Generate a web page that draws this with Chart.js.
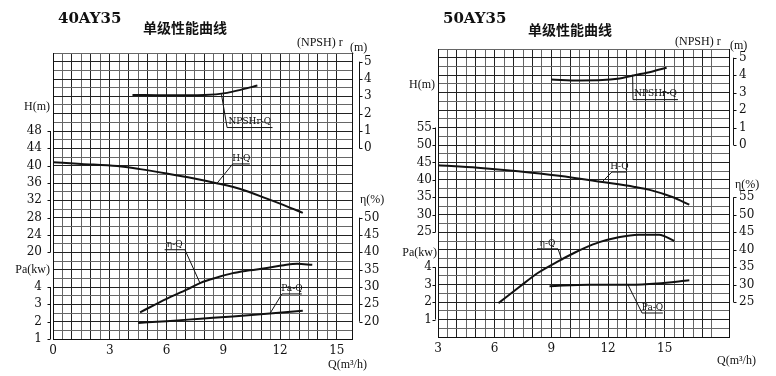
<!DOCTYPE html>
<html>
<head>
<meta charset="utf-8">
<script src="https://cdn.jsdelivr.net/npm/chart.js@4"></script>
<style>
html, body { margin: 0; padding: 0; background: #fff; }
#wrap { position: relative; width: 776px; height: 376px; overflow: hidden; }
canvas { position: absolute; top: 0; }
#c40 { left: 0; }
#c50 { left: 388px; }
</style>
</head>
<body>
<div id="wrap">
	<canvas id="c40" width="388" height="376"></canvas>
	<canvas id="c50" width="388" height="376"></canvas>
</div>
<script>
// ---- 40AY35 ----
var q40_ticks    = [0, 3, 6, 9, 12, 15];
var h40_ticks    = [20, 24, 28, 32, 36, 40, 44, 48];
var pa40_ticks   = [1, 2, 3, 4];
var npsh40_ticks = [0, 1, 2, 3, 4, 5];
var eta40_ticks  = [20, 25, 30, 35, 40, 45, 50];

var q40_npsh = [4.2, 6, 8, 9.2, 10, 10.8];
var npsh40   = [3.08, 3.06, 3.08, 3.2, 3.4, 3.62];
var q40_h    = [0, 1.5, 3.4, 4.6, 6, 7.4, 8.7, 9.9, 11.3, 12.2, 13.2];
var h40      = [40.8, 40.4, 39.9, 39.2, 38.2, 37.1, 35.9, 34.6, 32.4, 30.9, 29.1];
var q40_eta  = [4.6, 6, 7.1, 7.8, 8.7, 9.5, 10.4, 11.3, 12.2, 12.9, 13.7];
var eta40    = [22.7, 26.6, 29.3, 31.2, 32.8, 34.0, 34.8, 35.5, 36.3, 36.7, 36.4];
var q40_pa   = [4.5, 6, 7.8, 9.5, 11.3, 13.2];
var pa40     = [1.93, 2.03, 2.17, 2.3, 2.45, 2.63];

// ---- 50AY35 ----
var q50_ticks    = [3, 6, 9, 12, 15, 18];
var h50_ticks    = [25, 30, 35, 40, 45, 50, 55];
var pa50_ticks   = [1, 2, 3, 4];
var npsh50_ticks = [0, 1, 2, 3, 4, 5];
var eta50_ticks  = [25, 30, 35, 40, 45, 50, 55];

var q50_npsh = [9.0, 10.5, 11.7, 12.5, 13.4, 14.3, 15.1];
var npsh50   = [3.75, 3.7, 3.72, 3.8, 4.0, 4.2, 4.43];
var q50_h    = [3, 5.1, 7.25, 9.4, 11.7, 13.4, 14.3, 15.4, 16.3];
var h50      = [44.2, 43.5, 42.5, 41.2, 39.4, 38.0, 37.0, 35.1, 32.9];
var q50_eta  = [6.2, 7.25, 8.3, 9.4, 10.25, 10.8, 11.5, 12.5, 13.6, 14.7, 15.5];
var eta50    = [24.7, 29.1, 33.4, 36.8, 39.2, 40.6, 42.1, 43.5, 44.3, 44.3, 42.5];
var q50_pa   = [8.9, 11.0, 13.2, 14.6, 16.3];
var pa50     = [2.91, 3.0, 3.0, 3.07, 3.25];

var FONT = 'DejaVu Serif';
var ROWS = 33;   // grid rows, every label sits on an even row

function pts(qs, vs) {
	return qs.map(function(q, i) { return { x: q, y: vs[i] }; });
}

// hidden value axis that lines up with the row grid
function value_axis(ticks, row) {
	var per_row = (ticks[1] - ticks[0]) / 2;
	var lo = ticks[0] - row * per_row;
	return { display: false, min: lo, max: lo + ROWS * per_row };
}

function row_label(groups) {
	return function(v) {
		for (var i = 0; i < groups.length; i++) {
			var g = groups[i];
			var k = (v - g.row) / 2;
			if (Number.isInteger(k) && k >= 0 && k < g.ticks.length) return g.ticks[k];
		}
		return '';
	};
}

var decor = {
	id: 'decor',
	afterDraw: function(chart, args, o) {
		var ctx = chart.ctx, a = chart.chartArea, x = chart.scales.x, y = chart.scales.y;
		ctx.save();
		ctx.strokeStyle = '#111';
		ctx.fillStyle = '#111';
		ctx.lineWidth = 1;
		// brackets next to the tick columns
		o.brackets.forEach(function(b) {
			var dir = b.side === 'left' ? -1 : 1;
			var bx = (b.side === 'left' ? a.left : a.right) + dir * b.gap + 0.5;
			ctx.beginPath();
			ctx.moveTo(bx, y.getPixelForValue(b.from));
			ctx.lineTo(bx, y.getPixelForValue(b.to));
			for (var r = b.from; r <= b.to; r += 2) {
				var py = Math.round(y.getPixelForValue(r)) + 0.5;
				ctx.moveTo(bx, py);
				ctx.lineTo(bx + dir * 3, py);
			}
			ctx.stroke();
		});
		// curve name leaders
		ctx.font = '9px ' + FONT;
		ctx.textAlign = 'center';
		ctx.textBaseline = 'bottom';
		o.leaders.forEach(function(l) {
			var ax = x.getPixelForValue(l.q), ay = chart.scales[l.axis].getPixelForValue(l.v);
			var ex = x.getPixelForValue(l.elbowQ), ey = y.getPixelForValue(l.elbowRow);
			var tx = x.getPixelForValue(l.tailQ);
			ctx.beginPath();
			ctx.moveTo(ax, ay);
			ctx.lineTo(ex, ey);
			ctx.lineTo(tx, ey);
			ctx.stroke();
			ctx.fillText(l.text, (ex + tx) / 2, ey - 1);
		});
		// titles and axis names
		ctx.textBaseline = 'middle';
		o.texts.forEach(function(t) {
			ctx.font = t.font;
			ctx.textAlign = t.align || 'left';
			ctx.fillText(t.text, t.x, t.y);
		});
		ctx.restore();
	}
};

function make_pump_chart(canvas_id, s) {
	var grid_col = function(c) { return c.tick && c.tick.value % 2 === 0 ? '#222' : '#666'; };
	var grid_colx = function(c) { return c.tick && Number.isInteger(c.tick.value) ? '#222' : '#666'; };
	var curve = function(qs, vs, axis) {
		return { data: pts(qs, vs), yAxisID: axis, borderColor: '#111', borderWidth: 2,
		         pointRadius: 0, fill: false, cubicInterpolationMode: 'monotone' };
	};
	var tick_font = { family: FONT, size: 12 };
	new Chart(document.getElementById(canvas_id), {
		type: 'line',
		data: {
			datasets: [
				curve(s.q_npsh, s.npsh, 'yN'),
				curve(s.q_h, s.h, 'yH'),
				curve(s.q_eta, s.eta, 'yE'),
				curve(s.q_pa, s.pa, 'yP')
			]
		},
		plugins: [decor],
		options: {
			responsive: false,
			animation: false,
			layout: { padding: { top: s.top, left: 0, right: 0, bottom: 0 } },
			plugins: { legend: { display: false }, tooltip: { enabled: false }, decor: s.decor },
			scales: {
				x: { type: 'linear', min: s.qmin, max: s.qmax,
				     afterFit: function(sc) { sc.height = s.bottom; },
				     ticks: { stepSize: 0.5, autoSkip: false, maxRotation: 0, padding: 5, color: '#111', font: tick_font,
				              callback: function(v) { return s.q_ticks.indexOf(v) >= 0 ? v : ''; } },
				     grid: { color: grid_colx, drawTicks: false },
				     border: { color: '#111' } },
				y: { position: 'left', min: 0, max: ROWS,
				     afterFit: function(sc) { sc.width = s.left; },
				     ticks: { stepSize: 1, autoSkip: false, padding: s.lpad, color: '#111', font: tick_font,
				              callback: row_label(s.left_groups) },
				     grid: { color: grid_col, drawTicks: false },
				     border: { color: '#111' } },
				yR: { position: 'right', min: 0, max: ROWS,
				      afterFit: function(sc) { sc.width = s.right; },
				      ticks: { stepSize: 1, autoSkip: false, padding: s.rpad, color: '#111', font: tick_font,
				               callback: row_label(s.right_groups) },
				      grid: { display: false, drawTicks: false },
				      border: { color: '#111' } },
				yH: value_axis(s.h_ticks, s.h_row),
				yP: value_axis(s.pa_ticks, s.pa_row),
				yN: value_axis(s.npsh_ticks, s.npsh_row),
				yE: value_axis(s.eta_ticks, s.eta_row)
			}
		}
	});
}

var title_font = 'bold 15px ' + FONT;
var cjk_font = 'bold 14px "Noto Sans CJK SC"';
var name_font = '12px "Liberation Serif"';

make_pump_chart('c40', {
	qmin: 0, qmax: 15.8, q_ticks: q40_ticks,
	top: 53, bottom: 37, left: 53, right: 36, lpad: 11, rpad: 12,
	q_npsh: q40_npsh, npsh: npsh40, q_h: q40_h, h: h40, q_eta: q40_eta, eta: eta40, q_pa: q40_pa, pa: pa40,
	h_ticks: h40_ticks, h_row: 10, pa_ticks: pa40_ticks, pa_row: 0,
	npsh_ticks: npsh40_ticks, npsh_row: 22, eta_ticks: eta40_ticks, eta_row: 2,
	left_groups: [ { ticks: h40_ticks, row: 10 }, { ticks: pa40_ticks, row: 0 } ],
	right_groups: [ { ticks: npsh40_ticks, row: 22 }, { ticks: eta40_ticks, row: 2 } ],
	decor: {
		brackets: [ { side: 'left', gap: 3, from: 10, to: 24 }, { side: 'left', gap: 3, from: 0, to: 6 },
		            { side: 'right', gap: 7, from: 22, to: 32 }, { side: 'right', gap: 7, from: 2, to: 14 } ],
		leaders: [
			{ text: 'NPSHr-Q', axis: 'yN', q: 8.9, v: 3.12, elbowQ: 9.2, elbowRow: 24.4, tailQ: 11.6 },
			{ text: 'H-Q', axis: 'yH', q: 8.66, v: 35.9, elbowQ: 9.5, elbowRow: 20.2, tailQ: 10.4 },
			{ text: 'η-Q', axis: 'yE', q: 7.77, v: 31.1, elbowQ: 6.97, elbowRow: 10.3, tailQ: 5.9 },
			{ text: 'Pa-Q', axis: 'yP', q: 11.46, v: 2.46, elbowQ: 12.1, elbowRow: 5.2, tailQ: 13.15 }
		],
		texts: [
			{ text: '40AY35', x: 58, y: 19, font: title_font },
			{ text: '单级性能曲线', x: 143, y: 28, font: cjk_font },
			{ text: '(NPSH) r', x: 297, y: 43, font: name_font },
			{ text: '(m)', x: 350, y: 48, font: name_font },
			{ text: 'H(m)', x: 50, y: 107, font: name_font, align: 'right' },
			{ text: 'Pa(kw)', x: 50, y: 270, font: name_font, align: 'right' },
			{ text: 'η(%)', x: 360, y: 200, font: name_font },
			{ text: 'Q(m³/h)', x: 328, y: 365, font: name_font }
		]
	}
});

make_pump_chart('c50', {
	qmin: 3, qmax: 18.4, q_ticks: q50_ticks,
	top: 49, bottom: 39, left: 50, right: 47, lpad: 6, rpad: 10,
	q_npsh: q50_npsh, npsh: npsh50, q_h: q50_h, h: h50, q_eta: q50_eta, eta: eta50, q_pa: q50_pa, pa: pa50,
	h_ticks: h50_ticks, h_row: 12, pa_ticks: pa50_ticks, pa_row: 2,
	npsh_ticks: npsh50_ticks, npsh_row: 22, eta_ticks: eta50_ticks, eta_row: 4,
	left_groups: [ { ticks: h50_ticks, row: 12 }, { ticks: pa50_ticks, row: 2 } ],
	right_groups: [ { ticks: npsh50_ticks, row: 22 }, { ticks: eta50_ticks, row: 4 } ],
	decor: {
		brackets: [ { side: 'left', gap: 3, from: 12, to: 24 }, { side: 'left', gap: 3, from: 2, to: 8 },
		            { side: 'right', gap: 4, from: 22, to: 32 }, { side: 'right', gap: 4, from: 4, to: 16 } ],
		leaders: [
			{ text: 'NPSHr-Q', axis: 'yN', q: 13.3, v: 4.02, elbowQ: 13.32, elbowRow: 27.2, tailQ: 15.7 },
			{ text: 'H-Q', axis: 'yH', q: 11.68, v: 39.4, elbowQ: 12.2, elbowRow: 18.9, tailQ: 13.0 },
			{ text: 'η-Q', axis: 'yE', q: 9.56, v: 37.0, elbowQ: 9.35, elbowRow: 10.1, tailQ: 8.24 },
			{ text: 'Pa-Q', axis: 'yP', q: 13.05, v: 3.0, elbowQ: 13.8, elbowRow: 2.75, tailQ: 14.9 }
		],
		texts: [
			{ text: '50AY35', x: 55, y: 19, font: title_font },
			{ text: '单级性能曲线', x: 140, y: 30, font: cjk_font },
			{ text: '(NPSH) r', x: 287, y: 42, font: name_font },
			{ text: '(m)', x: 342, y: 46, font: name_font },
			{ text: 'H(m)', x: 47, y: 85, font: name_font, align: 'right' },
			{ text: 'Pa(kw)', x: 49, y: 253, font: name_font, align: 'right' },
			{ text: 'η(%)', x: 347, y: 185, font: name_font },
			{ text: 'Q(m³/h)', x: 329, y: 361, font: name_font }
		]
	}
});
</script>
</body>
</html>
